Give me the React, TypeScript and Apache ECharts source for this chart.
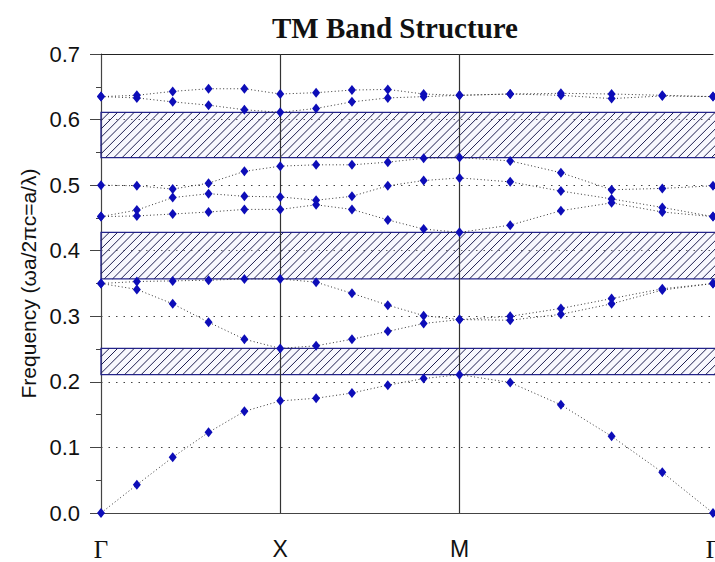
import React, { useEffect, useRef } from "react";
import * as echarts from "echarts";

// Reduced wave-vector along the path Γ → X → M → Γ (5 steps per segment)
const K_PATH = [
  0, 0.2, 0.4, 0.6, 0.8, 1.0,
  1.2, 1.4, 1.6, 1.8, 2.0,
  2.2828, 2.5657, 2.8485, 3.1314, 3.4142,
];

const SYMMETRY_POS = [0, 1, 2, 3.4142];
const SYMMETRY_LABELS = ["Γ", "X", "M", "Γ"];

const Y_TICKS = [0, 0.1, 0.2, 0.3, 0.4, 0.5, 0.6, 0.7];

// TM bands, normalised frequency ωa/2πc
const band1 = [0, 0.043, 0.085, 0.123, 0.155, 0.171, 0.175, 0.183, 0.195, 0.205, 0.211, 0.199, 0.165, 0.117, 0.062, 0];
const band2 = [0.35, 0.341, 0.319, 0.291, 0.265, 0.251, 0.255, 0.265, 0.277, 0.289, 0.295, 0.294, 0.303, 0.319, 0.34, 0.35];
const band3 = [0.35, 0.353, 0.354, 0.355, 0.357, 0.357, 0.352, 0.335, 0.317, 0.301, 0.295, 0.3, 0.312, 0.327, 0.342, 0.35];
const band4 = [0.452, 0.453, 0.456, 0.459, 0.463, 0.463, 0.47, 0.463, 0.447, 0.433, 0.428, 0.439, 0.461, 0.473, 0.459, 0.452];
const band5 = [0.452, 0.462, 0.481, 0.487, 0.483, 0.482, 0.477, 0.483, 0.499, 0.507, 0.511, 0.505, 0.491, 0.479, 0.466, 0.452];
const band6 = [0.5, 0.499, 0.494, 0.503, 0.521, 0.529, 0.531, 0.531, 0.535, 0.541, 0.542, 0.537, 0.519, 0.493, 0.495, 0.499];
const band7 = [0.635, 0.633, 0.627, 0.622, 0.615, 0.611, 0.617, 0.627, 0.633, 0.635, 0.637, 0.639, 0.637, 0.632, 0.636, 0.635];
const band8 = [0.635, 0.637, 0.643, 0.647, 0.647, 0.639, 0.641, 0.645, 0.646, 0.639, 0.637, 0.639, 0.64, 0.639, 0.637, 0.635];

const BANDS = [band1, band2, band3, band4, band5, band6, band7, band8];

// Photonic band gaps [lower edge, upper edge]
const gapLow = [0.211, 0.357, 0.542];
const gapHigh = [0.251, 0.428, 0.611];

const X_MAX = 3.4142;

export default function App() {
  const ref = useRef<HTMLDivElement>(null);

  useEffect(() => {
    if (!ref.current) return;
    const chart = echarts.init(ref.current, null, { renderer: "svg" });

    const bandSeries = BANDS.map((band, i) => ({
      type: "line",
      name: "band" + (i + 1),
      data: band.map((f, j) => [K_PATH[j], f]),
      symbol: "diamond",
      symbolSize: [8, 10],
      itemStyle: { color: "#0d0db8" },
      lineStyle: { color: "#333", width: 1, type: [1, 2.5] },
      z: 5,
      markLine:
        i === 0
          ? {
              silent: true,
              symbol: "none",
              label: { show: false },
              lineStyle: { color: "#333", width: 1.2, type: "solid" },
              data: [{ xAxis: 1 }, { xAxis: 2 }],
            }
          : undefined,
    }));

    const gapSeries = {
      type: "custom",
      data: gapLow.map((lo, i) => [lo, gapHigh[i]]),
      encode: { y: [0, 1] },
      z: 2,
      renderItem: (params: any, api: any) => {
        const lo = api.value(0);
        const hi = api.value(1);
        const pTop = api.coord([0, hi]);
        const pBot = api.coord([X_MAX, lo]);
        const x0 = pTop[0];
        const y0 = pTop[1];
        const x1 = pBot[0] + 3;
        const y1 = pBot[1];
        const children: any[] = [
          {
            type: "rect",
            shape: { x: x0, y: y0, width: x1 - x0, height: y1 - y0 },
            style: { fill: "rgba(215,215,250,0.18)", stroke: "#24248c", lineWidth: 1.3 },
          },
        ];
        const step = 8.3;
        for (let c = x0 + y0 + step; c < x1 + y1; c += step) {
          const xa = Math.max(x0, c - y1);
          const xb = Math.min(x1, c - y0);
          if (xb > xa) {
            children.push({
              type: "line",
              shape: { x1: xa, y1: c - xa, x2: xb, y2: c - xb },
              style: { stroke: "#1e1e50", lineWidth: 1 },
            });
          }
        }
        return { type: "group", children };
      },
    };

    chart.setOption({
      animation: false,
      backgroundColor: "#ffffff",
      title: {
        text: "TM Band Structure",
        left: 267,
        top: 8,
        textStyle: {
          fontFamily: "Liberation Serif",
          fontWeight: "bold",
          fontSize: 29,
          color: "#111",
        },
      },
      grid: {
        left: 101,
        right: 2,
        top: 54,
        bottom: 49,
        containLabel: false,
        outerBoundsMode: "none",
      },
      xAxis: [
        {
          type: "value",
          min: 0,
          max: X_MAX,
          position: "bottom",
          axisLine: { show: true, lineStyle: { color: "#444", width: 1.2 } },
          axisTick: { show: false },
          splitLine: { show: false },
          axisLabel: {
            customValues: SYMMETRY_POS,
            margin: 24,
            color: "#111",
            hideOverlap: false,
            formatter: (v: number) => {
              const idx = SYMMETRY_POS.findIndex((p) => Math.abs(p - v) < 1e-3);
              if (idx < 0) return "";
              const s = SYMMETRY_LABELS[idx];
              return s === "Γ" ? "{g|" + s + "}" : "{s|" + s + "}";
            },
            rich: {
              g: { fontFamily: "Liberation Serif", fontSize: 25, color: "#111" },
              s: { fontFamily: "Liberation Sans", fontSize: 23, color: "#111" },
            },
          },
        },
        {
          type: "value",
          min: 0,
          max: X_MAX,
          position: "top",
          axisLine: { show: true, lineStyle: { color: "#222", width: 1.2 } },
          axisTick: { show: false },
          axisLabel: { show: false },
          splitLine: { show: false },
        },
      ],
      yAxis: {
        type: "value",
        min: Y_TICKS[0],
        max: Y_TICKS[Y_TICKS.length - 1],
        interval: 0.1,
        name: "Frequency (ωa/2πc=a/λ)",
        nameLocation: "middle",
        nameGap: 62,
        nameTextStyle: { fontFamily: "Liberation Sans", fontSize: 21, color: "#111" },
        axisLine: { show: true, lineStyle: { color: "#444", width: 1.2 } },
        axisTick: { show: true, length: 11, lineStyle: { color: "#444" } },
        minorTick: { show: true, splitNumber: 2, length: 5, lineStyle: { color: "#444" } },
        axisLabel: {
          margin: 21,
          fontFamily: "Liberation Sans",
          fontSize: 22,
          color: "#111",
          formatter: (v: number) => v.toFixed(1),
        },
        splitLine: { show: true, lineStyle: { color: "#444", width: 1, type: [1.5, 6] } },
      },
      series: [gapSeries, ...bandSeries],
    });

    return () => chart.dispose();
  }, []);

  return (
    <div
      ref={ref}
      style={{ position: "fixed", left: 0, top: 0, width: 715, height: 562 }}
    />
  );
}
